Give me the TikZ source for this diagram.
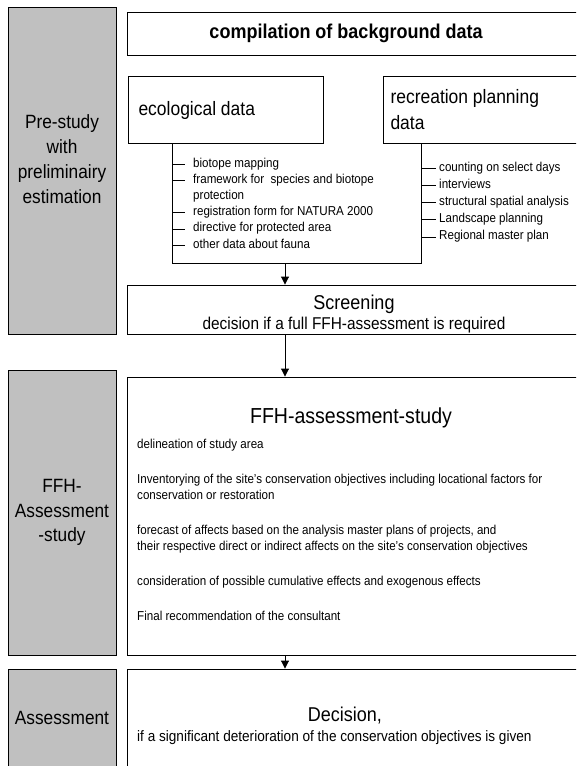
\documentclass[tikz,border=0pt]{standalone}
\usepackage{fontspec}
\setmainfont[FakeStretch=0.9]{Liberation Sans}
\usetikzlibrary{arrows.meta}
\definecolor{phasegray}{HTML}{C0C0C0}
\newcommand{\phasefont}{\fontsize{19.2}{24.8}\selectfont}
\newcommand{\headfont}{\fontsize{19.4}{26}\selectfont}
\newcommand{\titlefont}{\fontsize{20}{22}\selectfont}
\newcommand{\itemfont}{\fontsize{12.9}{16}\selectfont}

\begin{document}
\begin{tikzpicture}[x=1pt,y=-1pt,
  phase/.style={draw, fill=phasegray, line width=0.9pt, minimum width=108pt, inner sep=0pt},
  phasetext/.style={align=center, inner sep=0pt, font=\phasefont},
  stagebox/.style={draw, line width=0.9pt, inner sep=0pt},
  listitem/.style={anchor=west, inner sep=2pt, font=\itemfont, text height=8.6pt, text depth=2.6pt},
  arr/.style={-{Triangle[length=8pt,width=8pt]}, line width=0.9pt}]
 \useasboundingbox (0,0) rectangle (576,766);
 \clip (0,0) rectangle (576,766);
 \node[phase, minimum height=327pt] (pre) at (62,170.5) {};
 \node[phasetext] (pretext) at (62,159) {Pre-study\\with\\preliminairy\\estimation};
 \node[phase, minimum height=285pt] (ffhphase) at (62,512.5) {};
 \node[phasetext] (ffhphasetext) at (62,512.5) {FFH-\\Assessment\\-study};
 \node[phase, minimum height=99pt] (assess) at (62,718.5) {};
 \node[phasetext] (assesstext) at (62,718) {Assessment};

 \node[stagebox, minimum width=451pt, minimum height=43pt] (comp) at (353,33.5) {};
 \node[font=\bfseries\titlefont] (comptitle) at (346,33) {compilation of background data};
 \node[stagebox, minimum width=195pt, minimum height=67pt] (eco) at (225.5,109.5) {};
 \node[anchor=west, font=\headfont] (ecotitle) at (135,110) {ecological data};
 \node[stagebox, minimum width=196pt, minimum height=67pt] (rec) at (481,109.5) {};
 \node[anchor=west, align=left, font=\headfont] (rectitle) at (387,110) {recreation planning\\data};

 \coordinate (ecoline) at (172,263);
 \coordinate (recline) at (421,263);
 \coordinate (axis) at (285,0);
 \draw[line width=0.9pt] (ecoline |- eco.south) -- (ecoline) -- (recline) -- (recline |- rec.south);
 \foreach \y/\txt [count=\n] in {164/biotope mapping, 180.2/{framework for\ \ species and biotope}, 212.6/registration form for NATURA 2000, 228.8/directive for protected area, 245/other data about fauna}{
  \node[listitem] (eco\n) at (191,\y) {\txt};
  \draw (ecoline |- eco\n.west) -- ++(13,0);
 }
 \node[listitem] (ecoprot) at (191,196.4) {protection};
 \foreach \y/\txt [count=\n] in {168/counting on select days, 185.2/interviews, 202.4/structural spatial analysis, 219.6/Landscape planning, 236.8/Regional master plan}{
  \node[listitem] (rec\n) at (437,\y) {\txt};
  \draw (recline |- rec\n.west) -- ++(15,0);
 }

 \node[stagebox, minimum width=451pt, minimum height=49pt] (screen) at (353,309.5) {};
 \node[font=\titlefont] (screentitle) at (354,304) {Screening};
 \node[font=\fontsize{17.1}{18}\selectfont] (screentext) at (354,325) {decision if a full FFH-assessment is required};
 \draw[arr] (axis |- ecoline) -- (axis |- screen.north);

 \node[stagebox, minimum width=451pt, minimum height=278pt] (ffh) at (353,516) {};
 \node[font=\fontsize{21.7}{24}\selectfont] (ffhtitle) at (351,418) {FFH-assessment-study};
 \foreach \y/\txt [count=\n] in {445/delineation of study area, 480/{Inventorying of the site’s conservation objectives including locational factors for}, 496/conservation or restoration, 531/{forecast of affects based on the analysis master plans of projects, and}, 547/{their respective direct or indirect affects on the site’s conservation objectives}, 582/consideration of possible cumulative effects and exogenous effects, 617/Final recommendation of the consultant}{
  \node[listitem] (ffh\n) at (135,\y) {\txt};
 }
 \draw[arr] (axis |- screen.south) -- (axis |- ffh.north);

 \node[stagebox, minimum width=451pt, minimum height=99pt] (decis) at (353,718.5) {};
 \node[font=\titlefont] (decistitle) at (345,716) {Decision,};
 \node[anchor=west, inner sep=2pt, font=\fontsize{15.1}{16}\selectfont] (decistext) at (135,738) {if a significant deterioration of the conservation objectives is given};
 \draw[arr] (axis |- ffh.south) -- (axis |- decis.north);
\end{tikzpicture}
\end{document}
